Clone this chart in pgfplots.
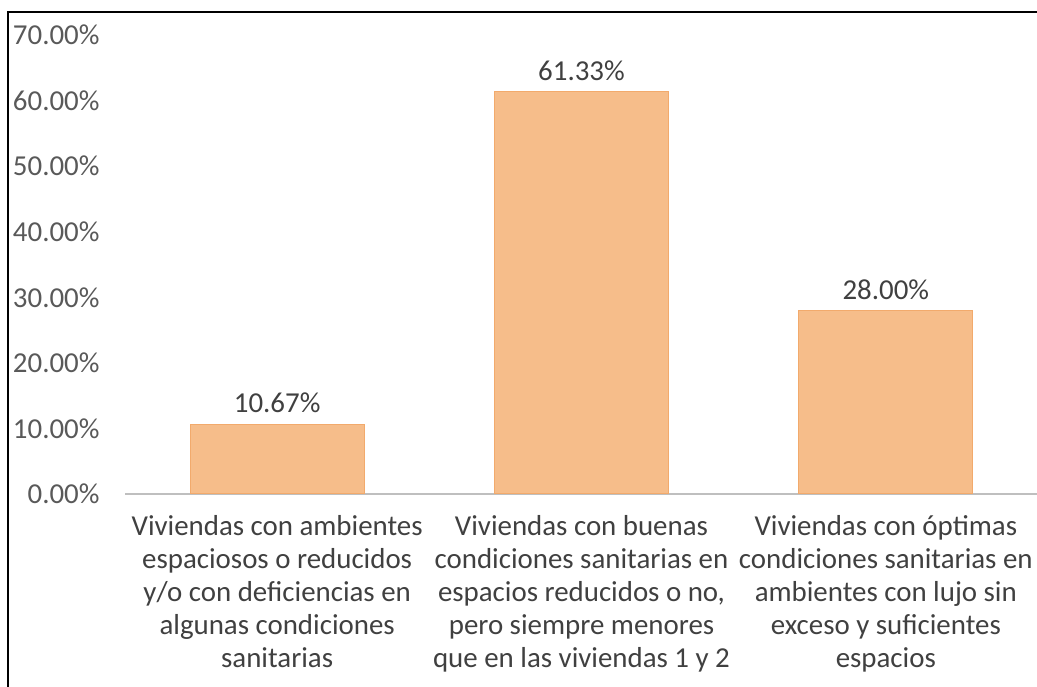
\documentclass[border=0pt]{standalone}
\usepackage{pgfplots}
\pgfplotsset{compat=1.18}
\usepackage{fontspec}
\setmainfont{Carlito}
\definecolor{barfill}{HTML}{F6BD8A}
\definecolor{baredge}{HTML}{F2AA6C}
\definecolor{txt}{HTML}{404040}
\definecolor{ticktxt}{HTML}{595959}
\definecolor{axisgray}{HTML}{BFBFBF}
\begin{document}
\begin{tikzpicture}
\path[use as bounding box] (0,0) rectangle (1037bp,687bp);
\draw[black, line width=1.6bp] (8bp,0) -- (8bp,675bp) -- (1037bp,675bp);
\begin{axis}[
    at={(125bp,193bp)}, anchor=south west,
    scale only axis,
    width=913bp, height=459bp,
    xmin=-0.5, xmax=2.5,
    ymin=0, ymax=70,
    ytick={0,10,...,70},
    xtick={0,1,2},
    xticklabels={
        {Viviendas con ambientes\\espaciosos o reducidos\\y/o con deficiencias en\\algunas condiciones\\sanitarias},
        {Viviendas con buenas\\condiciones sanitarias en\\espacios reducidos o no,\\pero siempre menores\\que en las viviendas 1 y 2},
        {Viviendas con óptimas\\condiciones sanitarias en\\ambientes con lujo sin\\exceso y suficientes\\espacios}},
    xticklabel style={align=center, font=\fontsize{29}{33}\selectfont, text=txt, yshift=-18bp},
    yticklabel={\pgfmathprintnumber[fixed,fixed zerofill,precision=2]{\tick}\%},
    yticklabel style={font=\fontsize{29}{33}\selectfont, text=ticktxt, xshift=-22bp},
    /pgf/number format/assume math mode=true,
    axis y line*=left,
    y axis line style={draw=none},
    axis x line*=bottom,
    x axis line style={draw=axisgray, line width=1.5bp, -},
    major tick length=0pt,
    ybar, bar width=174bp,
    nodes near coords={\pgfmathprintnumber[fixed,fixed zerofill,precision=2]{\pgfplotspointmeta}\%},
    nodes near coords style={font=\fontsize{29}{33}\selectfont, text=txt, yshift=7bp},
    clip=false,
]
\addplot[fill=barfill, draw=baredge, line width=1bp] coordinates {(0,10.67) (1,61.33) (2,28.00)};
\end{axis}
\end{tikzpicture}
\end{document}
